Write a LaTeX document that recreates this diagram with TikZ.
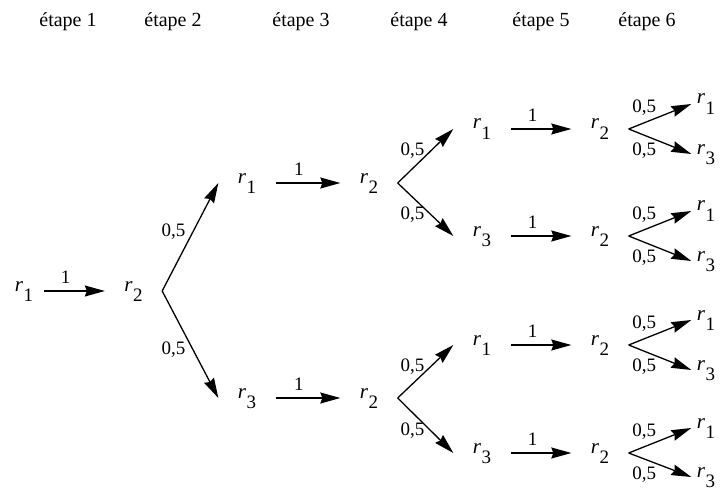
\documentclass[tikz,border=0pt]{standalone}
\usepackage{fontspec}
\setmainfont{Liberation Serif}
\usetikzlibrary{arrows.meta}

\newcommand{\rind}[1]{\textit{r}\kern0.3pt\raisebox{-10.5pt}{\fontsize{19}{19}\selectfont #1}}

\begin{document}
\begin{tikzpicture}[x=1pt,y=-1pt,->,>={Stealth[length=20pt,width=11pt,inset=2pt]},line width=1.3pt]
  \tikzstyle{etat}=[inner xsep=19pt,inner ysep=0pt,text height=11pt,text depth=11pt,font=\fontsize{21}{22}\selectfont]
  \tikzstyle{feuille}=[etat,inner xsep=5pt]
  \tikzstyle{proba}=[font=\fontsize{19}{20}\selectfont,inner sep=2pt]
  \tikzstyle{etape}=[anchor=base,font=\fontsize{20}{22}\selectfont]

  \useasboundingbox (0,0) rectangle (723,492);

  \node[etape] (E1) at (68,27)  {étape 1};
  \node[etape] (E2) at (173,27) {étape 2};
  \node[etape] (E3) at (301,27) {étape 3};
  \node[etape] (E4) at (419,27) {étape 4};
  \node[etape] (E5) at (541,27) {étape 5};
  \node[etape] (E6) at (647,27) {étape 6};

  \node[etat,inner xsep=10pt] (A) at (24,291) {\rind{1}};
  \node[etat] (B) at (133.5,291) {\rind{2}};
  \node[etat] (C) at (247,183)   {\rind{1}};
  \node[etat] (D) at (247,398)   {\rind{3}};
  \node[etat] (F) at (369,183)   {\rind{2}};
  \node[etat] (G) at (369,398)   {\rind{2}};
  \node[etat] (H) at (482,129)   {\rind{1}};
  \node[etat] (I) at (482,236)   {\rind{3}};
  \node[etat] (J) at (482,345)   {\rind{1}};
  \node[etat] (K) at (482,453)   {\rind{3}};
  \node[etat] (L) at (600,129)   {\rind{2}};
  \node[etat] (M) at (600,236)   {\rind{2}};
  \node[etat] (N) at (600,345)   {\rind{2}};
  \node[etat] (O) at (600,453)   {\rind{2}};
  \node[feuille] (P) at (706,104) {\rind{1}};
  \node[feuille] (Q) at (706,154) {\rind{3}};
  \node[feuille] (R) at (706,211) {\rind{1}};
  \node[feuille] (S) at (706,261) {\rind{3}};
  \node[feuille] (T) at (706,320) {\rind{1}};
  \node[feuille] (U) at (706,370) {\rind{3}};
  \node[feuille] (V) at (706,428) {\rind{1}};
  \node[feuille] (W) at (706,477) {\rind{3}};

  \path (A) edge node[proba,above=5pt,pos=0.36] {1} (B)
        (B.east) edge node[proba,left=5pt,pos=0.55] {0,5} (C.west)
        (B.east) edge node[proba,left=5pt,pos=0.55] {0,5} (D.west)
        (C) edge node[proba,above=5pt,pos=0.36] {1} (F)
        (D) edge node[proba,above=5pt,pos=0.36] {1} (G)
        (F.east) edge node[proba,left=4pt,pos=0.6] {0,5} (H.west)
        (F.east) edge node[proba,left=4pt,pos=0.6] {0,5} (I.west)
        (G.east) edge node[proba,left=4pt,pos=0.6] {0,5} (J.west)
        (G.east) edge node[proba,left=4pt,pos=0.6] {0,5} (K.west)
        (H) edge node[proba,above=5pt,pos=0.36] {1} (L)
        (I) edge node[proba,above=5pt,pos=0.36] {1} (M)
        (J) edge node[proba,above=5pt,pos=0.36] {1} (N)
        (K) edge node[proba,above=5pt,pos=0.36] {1} (O)
        (L.east) edge node[proba,above=5pt,pos=0.25] {0,5} (P.west)
        (L.east) edge node[proba,below=5pt,pos=0.25] {0,5} (Q.west)
        (M.east) edge node[proba,above=5pt,pos=0.25] {0,5} (R.west)
        (M.east) edge node[proba,below=5pt,pos=0.25] {0,5} (S.west)
        (N.east) edge node[proba,above=5pt,pos=0.25] {0,5} (T.west)
        (N.east) edge node[proba,below=5pt,pos=0.25] {0,5} (U.west)
        (O.east) edge node[proba,above=5pt,pos=0.25] {0,5} (V.west)
        (O.east) edge node[proba,below=5pt,pos=0.25] {0,5} (W.west);

\end{tikzpicture}
\end{document}
